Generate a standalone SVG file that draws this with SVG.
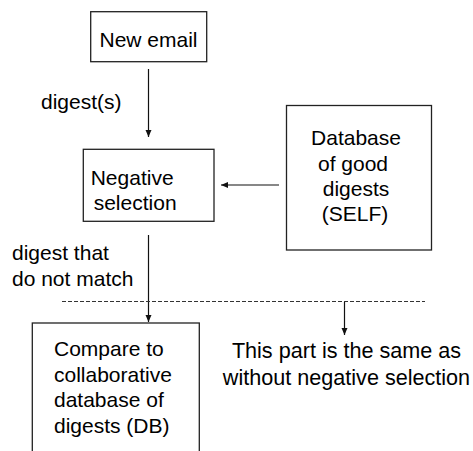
<svg xmlns="http://www.w3.org/2000/svg" width="473" height="451" viewBox="0 0 473 451">
<style>
.box{fill:#fff;stroke:#222;stroke-width:1.3}
.t{font-family:"Liberation Sans",Arial,sans-serif;font-size:21px;fill:#000}
.n{font-size:21.6px}
.c{stroke:#111;stroke-width:1.2;fill:none}
.d{stroke:#333;stroke-width:1;stroke-dasharray:4 2;fill:none}
</style>
<defs>
<marker id="ah" markerWidth="7" markerHeight="7" refX="7" refY="3.5" orient="auto" markerUnits="userSpaceOnUse">
<path d="M0,0.5 L7,3.5 L0,6.5 Z" fill="#111"/>
</marker>
</defs>
<rect width="473" height="451" fill="#fff"/>
<g id="connectors">
<line class="c" x1="148.5" y1="69" x2="148.5" y2="137" marker-end="url(#ah)"/>
<line class="c" x1="279" y1="185" x2="221" y2="185" marker-end="url(#ah)"/>
<line class="c" x1="148.5" y1="235" x2="148.5" y2="322" marker-end="url(#ah)"/>
<line class="d" x1="62" y1="301.5" x2="425" y2="301.5"/>
<line class="c" x1="344.5" y1="302" x2="344.5" y2="335" marker-end="url(#ah)"/>
<text class="t" x="41" y="109">digest(s)</text>
<text class="t" x="12" y="260">digest that</text>
<text class="t" x="12" y="286">do not match</text>
</g>
<g id="new-email">
<rect class="box" x="90.7" y="11.7" width="116" height="50"/>
<text class="t" x="99.5" y="47">New email</text>
</g>
<g id="negative-selection">
<rect class="box" x="83.3" y="149.3" width="130.7" height="72"/>
<text class="t" x="90.7" y="185">Negative</text>
<text class="t" x="93.7" y="210">selection</text>
</g>
<g id="database-self">
<rect class="box" x="286.5" y="105.5" width="145" height="144.5"/>
<text class="t" text-anchor="middle" x="356" y="145">Database</text>
<text class="t" text-anchor="middle" x="353" y="170.5">of good</text>
<text class="t" text-anchor="middle" x="356" y="196">digests</text>
<text class="t" text-anchor="middle" x="355" y="221">(SELF)</text>
</g>
<g id="compare-db">
<rect class="box" x="32.3" y="323" width="167" height="140"/>
<text class="t" x="54" y="356">Compare to</text>
<text class="t" x="54" y="381.5">collaborative</text>
<text class="t" x="54" y="407">database of</text>
<text class="t" x="54" y="432.5">digests (DB)</text>
</g>
<g id="note">
<text class="t n" text-anchor="middle" x="346.5" y="358">This part is the same as</text>
<text class="t n" text-anchor="middle" x="346.5" y="385">without negative selection</text>
</g>
</svg>
